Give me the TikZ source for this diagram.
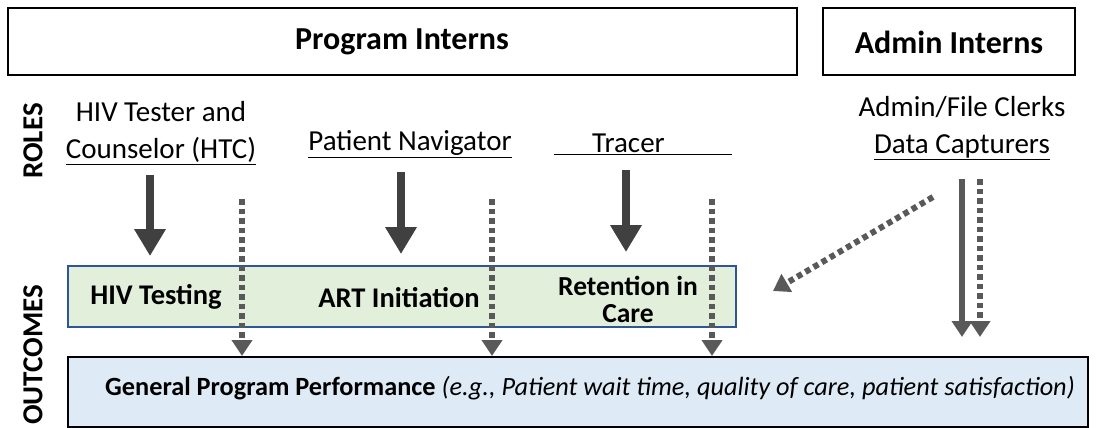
\documentclass[tikz,border=0pt]{standalone}
\usepackage{fontspec}
\setmainfont{Carlito}
\usetikzlibrary{arrows.meta}
\definecolor{greenfill}{HTML}{E2EFDA}
\definecolor{blueborder}{HTML}{2F5597}
\definecolor{bluefill}{HTML}{DEEBF7}
\definecolor{arrowdark}{HTML}{404040}
\definecolor{arrowgray}{HTML}{595959}
\begin{document}
\begin{tikzpicture}[x=1pt,y=-1pt,
  txt/.style={inner sep=0pt, font=\fontsize{29}{37}\selectfont, align=center},
  btxt/.style={inner sep=0pt, font=\fontsize{28.5}{28}\selectfont\bfseries, align=center},
  htxt/.style={inner sep=0pt, font=\fontsize{32}{36}\selectfont\bfseries, align=center},
  topbox/.style={draw=black, line width=1.5pt},
  bigarrow/.style={draw=arrowdark, line width=8pt, -{Triangle[width=30pt,length=27pt]}},
  dotarrow/.style={draw=arrowgray, line width=6pt, dash pattern=on 5.5pt off 4pt, -{Triangle[width=20pt,length=16pt]}},
  adminarrow/.style={draw=arrowgray, line width=6pt, -{Triangle[width=20pt,length=16pt]}},
]
\useasboundingbox (0,0) rectangle (1096,428);

% top boxes
\draw[topbox] (8,8) rectangle (797,75);
\node[htxt] (prog) at (402,42) {Program Interns};
\draw[topbox] (823,8) rectangle (1075,75);
\node[htxt] (admin) at (949,42) {Admin Interns};

% side labels
\node[htxt, font=\fontsize{29}{30}\selectfont\bfseries, rotate=90] (roles) at (33,141) {ROLES};
\node[htxt, font=\fontsize{29}{30}\selectfont\bfseries, rotate=90] (outcomes) at (33,355) {OUTCOMES};

% role texts
\node[txt] (htc) at (161,133) {HIV Tester and\\\underline{Counselor (HTC)}};
\node[txt] (pn) at (410,144) {\underline{Patient Navigator}};
\node[txt] (tracer) at (643,144) {\underline{\hspace{38pt}Tracer\hspace{67pt}}};
\node[txt] (clerks) at (962,128) {Admin/File Clerks\\\underline{Data Capturers}};

% outcome box
\node[draw=blueborder, fill=greenfill, line width=1.5pt, minimum width=668pt, minimum height=61pt, inner sep=0pt] (green) at (402,296.5) {};
\node[btxt] (hivt) at (156,297) {HIV Testing};
\node[btxt] (art) at (399,298) {ART Initiation};
\node[btxt, font=\fontsize{27.5}{27}\selectfont\bfseries] (ret) at (628,299) {Retention in\\Care};

% general box
\node[draw=black, fill=bluefill, line width=2pt, minimum width=1020pt, minimum height=70pt, inner sep=0pt] (gen) at (578,392) {};
\node[inner sep=0pt, anchor=west, font=\fontsize{26.3}{30}\selectfont] (gentext) at (105,388) {\textbf{General Program Performance} \textit{(e.g., Patient wait time, quality of care, patient satisfaction)}};

% solid arrows
\coordinate (a1s) at (150,175); \coordinate (a1e) at (150,256);
\coordinate (a2s) at (401,172); \coordinate (a2e) at (401,254);
\coordinate (a3s) at (626,170); \coordinate (a3e) at (626,252);
\draw[bigarrow] (a1s) -- (a1e);
\draw[bigarrow] (a2s) -- (a2e);
\draw[bigarrow] (a3s) -- (a3e);

% dotted arrows
\coordinate (d1s) at (242,199); \coordinate (d2s) at (492,199); \coordinate (d3s) at (712,199);
\draw[dotarrow] (d1s) -- (d1s |- gen.north);
\draw[dotarrow] (d2s) -- (d2s |- gen.north);
\draw[dotarrow] (d3s) -- (d3s |- gen.north);

% admin arrows
\coordinate (s1) at (962,179); \coordinate (e1) at (962,337);
\coordinate (s2) at (980,179); \coordinate (e2) at (980,337);
\coordinate (ds) at (933,197); \coordinate (de) at (773,291);
\draw[adminarrow] (s1) -- (e1);
\draw[dotarrow] (s2) -- (e2);
\draw[dotarrow] (ds) -- (de);
\end{tikzpicture}
\end{document}
